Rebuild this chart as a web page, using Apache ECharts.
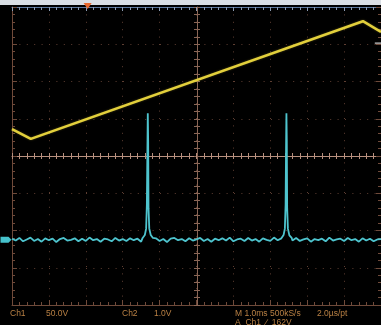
<!DOCTYPE html>
<html><head><meta charset="utf-8">
<script src="https://cdn.jsdelivr.net/npm/echarts@6/dist/echarts.min.js"></script>
<style>html,body{margin:0;padding:0;background:#000;}#c{width:381px;height:325px;}</style>
</head><body><div id="c"></div>
<script>
// Time axis in divisions (0..10), voltage in divisions (-4..4)
const ch1Time = [0, 0.51, 9.51, 10];
const ch1Volts = [0.72, 0.46, 3.62, 3.33];

const ch2Base = -2.25;
const ch2NoiseStep = 0.1;
const ch2Noise = [0.03,-0.02,0.05,-0.04,0.01,0.06,-0.03,0.02,-0.05,0.04,
 -0.01,0.03,-0.06,0.02,0.05,-0.02,0.00,0.04,-0.04,0.03,
 -0.03,0.06,-0.01,0.02,-0.05,0.03,0.01,-0.04,0.05,-0.02,
 0.02,-0.03,0.04,-0.01,0.03,-0.05,0.06,-0.02,0.01,0.04,
 -0.03,0.02,-0.06,0.03,0.05,-0.01,0.02,-0.04,0.04,-0.02,
 0.01,0.05,-0.03,0.02,-0.05,0.03,-0.01,0.04,-0.02,0.06,
 -0.04,0.01,0.03,-0.03,0.05,-0.02,0.02,-0.05,0.04,0.00,
 -0.03,0.06,-0.01,0.03,-0.04,0.02,-0.02,0.05,-0.03,0.01,
 0.04,-0.05,0.02,-0.01,0.03,-0.04,0.06,-0.02,0.01,0.03,
 -0.03,0.05,-0.01,0.02,-0.05,0.04,-0.02,0.03,-0.04,0.01,
 0.02];
const pulse1Time  = [3.54, 3.60, 3.635, 3.655, 3.67, 3.68, 3.69, 3.70, 3.72, 3.76, 3.82];
const pulse1Volts = [-2.2,-2.12,-1.95,-1.3, 0.2, 1.15, 0.4, -1.4, -1.95, -2.12,-2.2];
const pulse2Time  = [7.30, 7.36, 7.395, 7.415, 7.427, 7.437, 7.447, 7.457, 7.477, 7.517, 7.58];
const pulse2Volts = [-2.21,-2.12,-1.95,-1.3, 0.2, 1.15, 0.4, -1.4, -1.95, -2.13,-2.2];

const trigPos = 2.05;
const trigLevel = 3.03;

const ch1Data = ch1Time.map((t,i)=>[t, ch1Volts[i]]);
let ch2Data = [];
ch2Noise.forEach((n,i)=>{
  const t = i*ch2NoiseStep;
  if (Math.abs(t-3.676) < 0.15 || Math.abs(t-7.437) < 0.15) return;
  ch2Data.push([t, ch2Base + n]);
});
pulse1Time.forEach((t,i)=>ch2Data.push([t, pulse1Volts[i]]));
pulse2Time.forEach((t,i)=>ch2Data.push([t, pulse2Volts[i]]));
ch2Data.sort((a,b)=>a[0]-b[0]);

const gridCol = '#6f4a3a';
const centerCol = '#b8907f';
const dots = {show:true, lineStyle:{color:'#5e3e32', width:1, type:[1,6.4]}};

function xAx(o){
  return Object.assign({type:'value', min:0, max:10, interval:1, position:'bottom',
    axisLabel:{show:false}, splitLine:{show:false},
    axisLine:{show:true, onZero:false, lineStyle:{color:gridCol, width:1}},
    axisTick:{show:true, inside:true, length:5, lineStyle:{color:gridCol}},
    minorTick:{show:true, splitNumber:5, length:3, lineStyle:{color:gridCol}}}, o);
}
function yAx(o){
  return Object.assign({type:'value', min:-4, max:4, interval:1, position:'left',
    axisLabel:{show:false}, splitLine:{show:false},
    axisLine:{show:true, onZero:false, lineStyle:{color:gridCol, width:1}},
    axisTick:{show:true, inside:true, length:5, lineStyle:{color:gridCol}},
    minorTick:{show:true, splitNumber:5, length:3, lineStyle:{color:gridCol}}}, o);
}

const chart = echarts.init(document.getElementById('c'), null, {renderer:'canvas'});
chart.setOption({
  backgroundColor:'#000',
  animation:false,
  grid:{left:12, top:7, width:370, height:298, containLabel:false},
  xAxis:[
    xAx({splitLine:dots}),
    xAx({position:'top', axisLine:{show:true,onZero:false,lineStyle:{color:'#5a769c'}},
         axisTick:{show:true,inside:true,length:4,lineStyle:{color:'#8d9cb2'}},
         minorTick:{show:true,splitNumber:5,length:3,lineStyle:{color:'#8d9cb2'}}}),
    xAx({offset:-149, axisLine:{show:true,onZero:false,lineStyle:{color:centerCol}},
         axisTick:{show:true,inside:true,length:3,lineStyle:{color:centerCol}},
         minorTick:{show:true,splitNumber:5,length:3,lineStyle:{color:centerCol}}}),
    xAx({offset:-149, axisLine:{show:false,onZero:false},
         axisTick:{show:true,inside:false,length:3,lineStyle:{color:centerCol}},
         minorTick:{show:true,splitNumber:5,length:3,lineStyle:{color:centerCol}}})
  ],
  yAxis:[
    yAx({splitLine:dots}),
    yAx({position:'right'}),
    yAx({offset:-185, axisLine:{show:true,onZero:false,lineStyle:{color:'#8a6656'}},
         axisTick:{show:true,inside:true,length:3,lineStyle:{color:'#8a6656'}},
         minorTick:{show:true,splitNumber:5,length:3,lineStyle:{color:'#8a6656'}}}),
    yAx({offset:-185, axisLine:{show:false,onZero:false},
         axisTick:{show:true,inside:false,length:3,lineStyle:{color:'#8a6656'}},
         minorTick:{show:true,splitNumber:5,length:3,lineStyle:{color:'#8a6656'}}})
  ],
  series:[
    {type:'line', name:'Ch1', data:ch1Data, showSymbol:false, clip:true, z:5,
     lineStyle:{color:'#e2cf3c', width:2.6, shadowColor:'rgba(226,207,60,0.35)', shadowBlur:2},
     markPoint:{silent:true, symbolKeepAspect:false, label:{show:false}, data:[
       {coord:[trigPos,4], symbol:'triangle', symbolRotate:180, symbolSize:[8,6], symbolOffset:[0,-1], itemStyle:{color:'#e8682e'}},
       {coord:[9.94,trigLevel], symbol:'rect', symbolSize:[8,1.5], itemStyle:{color:'#a8a8a8'}}
     ]}},
    {type:'line', name:'Ch2', data:ch2Data, showSymbol:false, clip:true, z:4,
     lineStyle:{color:'#4ec4ce', width:1.8},
     markPoint:{silent:true, label:{show:false}, data:[
       {coord:[0,ch2Base], symbol:'path://M0,0 L8,0 L11,3 L8,6 L0,6 Z', symbolKeepAspect:false, symbolSize:[11,6], symbolOffset:[-6,0], itemStyle:{color:'#46c2cc'}}
     ]}}
  ],
  graphic:[
    {type:'rect', left:0, top:0, shape:{width:381,height:5}, style:{fill:'#d9dee4'}, z:-1},
    {type:'text', left:10, top:309, style:{text:'Ch1', fill:'#b98044', font:'8.5px "Liberation Sans"'}},
    {type:'text', left:46, top:309, style:{text:'50.0V', fill:'#b98044', font:'8.5px "Liberation Sans"'}},
    {type:'text', left:122, top:309, style:{text:'Ch2', fill:'#b98044', font:'8.5px "Liberation Sans"'}},
    {type:'text', left:154, top:309, style:{text:'1.0V', fill:'#b98044', font:'8.5px "Liberation Sans"'}},
    {type:'text', left:235, top:309, style:{text:'M 1.0ms 500kS/s', fill:'#b98044', font:'8.5px "Liberation Sans"'}},
    {type:'text', left:317, top:309, style:{text:'2.0µs/pt', fill:'#b98044', font:'8.5px "Liberation Sans"'}},
    {type:'text', left:235, top:318, style:{text:'A  Ch1  ∕  162V', fill:'#b98044', font:'8.5px "Liberation Sans"'}}
  ]
});
</script></body></html>
